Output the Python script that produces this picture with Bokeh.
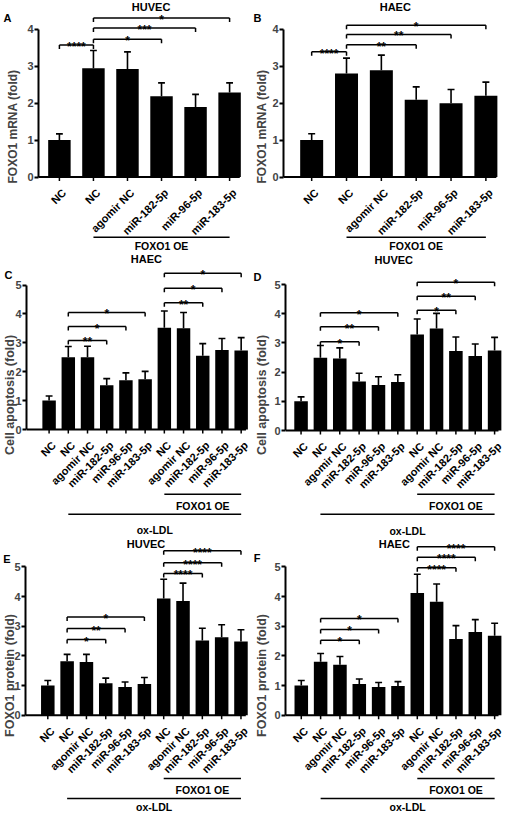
import math
from bokeh.plotting import figure
from bokeh.models import Range1d, FixedTicker, LinearAxis
from bokeh.layouts import column, row
from bokeh.embed import file_html
from bokeh.resources import INLINE
from bokeh.core.properties import value

FONT = "Liberation Sans"

# ---------------- data ----------------
labels_ab = ["NC", "NC", "agomir NC", "miR-182-5p", "miR-96-5p", "miR-183-5p"]
labels_cf = ["NC", "NC", "agomir NC", "miR-182-5p", "miR-96-5p", "miR-183-5p",
             "NC", "agomir NC", "miR-182-5p", "miR-96-5p", "miR-183-5p"]

a_mean = [1.00, 2.95, 2.93, 2.19, 1.90, 2.29]
a_err = [0.17, 0.48, 0.46, 0.36, 0.34, 0.26]
a_sig_from = [1, 2, 2, 2]
a_sig_to = [2, 4, 5, 6]
a_sig_level = [3.58, 3.73, 4.04, 4.31]
a_sig_text = ["****", "*", "***", "*"]

b_mean = [1.00, 2.80, 2.89, 2.09, 2.00, 2.20]
b_err = [0.17, 0.42, 0.41, 0.35, 0.37, 0.37]
b_sig_from = [1, 2, 2, 2]
b_sig_to = [2, 4, 5, 6]
b_sig_level = [3.39, 3.58, 3.86, 4.11]
b_sig_text = ["****", "**", "**", "*"]

c_mean = [1.00, 2.50, 2.50, 1.53, 1.70, 1.74, 3.52, 3.50, 2.55, 2.75, 2.73]
c_err = [0.16, 0.37, 0.38, 0.23, 0.26, 0.27, 0.58, 0.55, 0.42, 0.40, 0.45]
c_sig_from = [2, 2, 2, 7, 7, 7]
c_sig_to = [4, 5, 6, 9, 10, 11]
c_sig_level = [3.08, 3.56, 4.05, 4.39, 4.89, 5.41]
c_sig_text = ["**", "*", "*", "**", "*", "*"]

d_mean = [1.00, 2.49, 2.47, 1.68, 1.56, 1.66, 3.29, 3.49, 2.72, 2.55, 2.74]
d_err = [0.15, 0.42, 0.36, 0.28, 0.28, 0.25, 0.53, 0.52, 0.48, 0.41, 0.45]
d_sig_from = [2, 2, 2, 7, 7, 7]
d_sig_to = [4, 5, 6, 9, 10, 11]
d_sig_level = [3.04, 3.55, 4.03, 4.12, 4.60, 5.08]
d_sig_text = ["*", "**", "*", "*", "**", "*"]

e_mean = [1.00, 1.82, 1.79, 1.08, 0.95, 1.05, 3.93, 3.85, 2.52, 2.63, 2.48]
e_err = [0.17, 0.23, 0.26, 0.17, 0.17, 0.22, 0.65, 0.60, 0.41, 0.42, 0.40]
e_sig_from = [2, 2, 2, 7, 7, 7]
e_sig_to = [4, 5, 6, 9, 10, 11]
e_sig_level = [2.55, 2.92, 3.31, 4.78, 5.14, 5.54]
e_sig_text = ["*", "**", "*", "****", "****", "****"]

f_mean = [1.00, 1.80, 1.70, 1.05, 0.95, 0.98, 4.12, 3.82, 2.57, 2.80, 2.68]
f_err = [0.17, 0.28, 0.28, 0.17, 0.15, 0.15, 0.63, 0.60, 0.45, 0.42, 0.42]
f_sig_from = [2, 2, 2, 7, 7, 7]
f_sig_to = [4, 5, 6, 9, 10, 11]
f_sig_level = [2.53, 2.89, 3.26, 4.97, 5.32, 5.68]
f_sig_text = ["*", "*", "*", "****", "****", "****"]

groups_ab = [(2, 6, "FOXO1 OE")]
groups_cf = [(7, 11, "FOXO1 OE"), (2, 11, "ox-LDL")]


def make_panel(letter, title, ylabel, ymax, labels, mean, err, sf, st, sl, stxt, groups, L):
    n = len(labels)
    W = L["W"]
    axis = L["axis"]
    sp = L["sp"]
    u = L["u"]
    y0 = L["y0"]
    H = L["H"]
    xs = 1 - (L["bar1"] - axis) / sp
    xe = 1 + (W - L["bar1"]) / sp
    ys = -(H - y0) / u
    ye = y0 / u
    p = figure(width=W, height=H, x_range=Range1d(xs, xe), y_range=Range1d(ys, ye),
               x_axis_type=None, toolbar_location=None, output_backend="svg",
               min_border_left=axis, min_border_right=0, min_border_top=0,
               min_border_bottom=0, title=None)
    p.outline_line_color = None
    p.grid.visible = False

    ax = p.yaxis[0]
    ax.bounds = (0, ymax)
    ax.ticker = FixedTicker(ticks=list(range(ymax + 1)))
    ax.axis_line_width = 2
    ax.major_tick_line_width = 2
    ax.major_tick_out = 4
    ax.major_tick_in = 0
    ax.minor_tick_out = 0
    ax.minor_tick_in = 0
    ax.major_label_standoff = 1
    ax.axis_label = ylabel
    ax.axis_label_standoff = L["lab_so"]
    ax.axis_label_text_font = FONT
    ax.axis_label_text_font_style = "bold"
    ax.axis_label_text_font_size = "%gpx" % L["ylab_px"]
    ax.major_label_text_font = FONT
    ax.major_label_text_font_style = "bold"
    ax.major_label_text_font_size = "11px"

    # panel letter: an extra, line-less left axis carrying one tick label
    lx, ly = L["letter"]
    ly_data = round((y0 - ly) / u, 3)
    inner = 4 + 1 + 6.1 + L["lab_so"] + 1.117 * L["ylab_px"]
    outer_right = axis - inner
    so = int(round(outer_right - (lx + 4.0)))
    lax = LinearAxis(ticker=FixedTicker(ticks=[ly_data]),
                     major_label_overrides={ly_data: letter},
                     axis_line_color=None, major_tick_line_color=None,
                     minor_tick_line_color=None, major_tick_out=0, major_tick_in=0,
                     minor_tick_out=0, minor_tick_in=0, major_label_standoff=so,
                     major_label_text_font=FONT, major_label_text_font_style="bold",
                     major_label_text_font_size="11px", major_label_text_color="black")
    p.add_layout(lax, "left")

    xpos = list(range(1, n + 1))
    tops = [m + e for m, e in zip(mean, err)]
    cw = 3.5 / sp
    # bars
    p.vbar(x=xpos, top=mean, bottom=0, width=L["bw"], fill_color="black", line_color=None)
    # error bars (upper only)
    p.segment(x0=xpos, y0=mean, x1=xpos, y1=tops, line_color="black", line_width=1.6)
    p.segment(x0=[x - cw for x in xpos], y0=tops, x1=[x + cw for x in xpos], y1=tops,
              line_color="black", line_width=1.6)
    # x axis
    p.segment(x0=[xs], y0=[0], x1=[n + L["ext"]], y1=[0], line_color="black", line_width=2)
    p.segment(x0=xpos, y0=[0] * n, x1=xpos, y1=[-4.0 / u] * n, line_color="black", line_width=1.5)
    p.text(x=xpos, y=[0] * n, text=labels, angle=math.pi / 4, text_align="right",
           text_baseline="top", x_offset=0.5, y_offset=9.5, text_font=value(FONT),
           text_font_style="bold", text_font_size="11px", text_color="black")
    # significance brackets
    d = 4.0 / u
    hx0, hx1, hy = [], [], []
    vx, vy0, vy1 = [], [], []
    tx, ty = [], []
    for a, b, lev in zip(sf, st, sl):
        hx0.append(a); hx1.append(b); hy.append(lev)
        vx += [a, b]; vy0 += [lev, lev]; vy1 += [lev - d, lev - d]
        tx.append((a + b) / 2); ty.append(lev)
    p.segment(x0=hx0, y0=hy, x1=hx1, y1=hy, line_color="black", line_width=1.5)
    p.segment(x0=vx, y0=vy0, x1=vx, y1=vy1, line_color="black", line_width=1.5)
    p.text(x=tx, y=ty, text=stxt, text_align="center", text_baseline="alphabetic",
           y_offset=2, text_font=value(FONT), text_font_style="bold",
           text_font_size="12px", text_color="black")
    # group annotations
    for (a, b, txt), (lp, tp) in zip(groups, L["gpx"]):
        p.segment(x0=[a], y0=[-lp / u], x1=[b], y1=[-lp / u], line_color="black", line_width=1.5)
        p.text(x=[(a + b) / 2], y=[-tp / u], text=[txt], text_align="center",
               text_baseline="middle", text_font=value(FONT), text_font_style="bold",
               text_font_size="10.5px", text_color="black")
    # title
    tx_, ty_ = L["title"]
    p.text(x=[xs + (tx_ - axis) / sp], y=[(y0 - ty_) / u], text=[title], text_align="center",
           text_baseline="middle", text_font=value(FONT), text_font_style="bold",
           text_font_size="11px", text_color="black")
    return p


LA = dict(W=250, H=252, axis=32, bar1=53.5, sp=35.0, y0=176.5, u=36.9, bw=0.66, ext=0.3,
          title=(147.8, 6.5), letter=(7.5, 17.8), lab_so=4, ylab_px=12,
          gpx=[(60.3, 69.3)])
LB = dict(W=254, H=252, axis=32, bar1=60.3, sp=35.0, y0=176.5, u=36.92, bw=0.66, ext=0.3,
          title=(144.3, 6.5), letter=(12.7, 17.8), lab_so=0, ylab_px=12,
          gpx=[(60.3, 69.3)])
LC = dict(W=250, H=285, axis=22, bar1=45, sp=19.55, y0=177, u=28.9, bw=0.7, ext=0.25,
          title=(144, 6.5), letter=(9.5, 23), lab_so=-5, ylab_px=12.5,
          gpx=[(64.7, 76.3), (84.7, 100.5)])
LD = dict(W=254, H=285, axis=33, bar1=48.7, sp=19.53, y0=178, u=29.2, bw=0.7, ext=0.2,
          title=(142.3, 7.3), letter=(10.7, 24.2), lab_so=2, ylab_px=12.5,
          gpx=[(63.7, 75.3), (83.7, 100)])
LE = dict(W=250, H=276, axis=21, bar1=43.7, sp=19.66, y0=177.7, u=29.67, bw=0.7, ext=0.25,
          title=(143.7, 6.5), letter=(7.8, 22), lab_so=-6, ylab_px=12.5,
          gpx=[(63.3, 74.3), (83.3, 92)])
LF = dict(W=254, H=276, axis=32, bar1=48, sp=19.6, y0=177.7, u=29.67, bw=0.7, ext=0.2,
          title=(142.3, 6.8), letter=(9, 20), lab_so=2, ylab_px=12.5,
          gpx=[(63.3, 74.3), (83.3, 92)])

pA = make_panel("A", "HUVEC", "FOXO1 mRNA (fold)", 4, labels_ab, a_mean, a_err,
                a_sig_from, a_sig_to, a_sig_level, a_sig_text, groups_ab, LA)
pB = make_panel("B", "HAEC", "FOXO1 mRNA (fold)", 4, labels_ab, b_mean, b_err,
                b_sig_from, b_sig_to, b_sig_level, b_sig_text, groups_ab, LB)
pC = make_panel("C", "HAEC", "Cell apoptosis (fold)", 5, labels_cf, c_mean, c_err,
                c_sig_from, c_sig_to, c_sig_level, c_sig_text, groups_cf, LC)
pD = make_panel("D", "HUVEC", "Cell apoptosis (fold)", 5, labels_cf, d_mean, d_err,
                d_sig_from, d_sig_to, d_sig_level, d_sig_text, groups_cf, LD)
pE = make_panel("E", "HUVEC", "FOXO1 protein (fold)", 5, labels_cf, e_mean, e_err,
                e_sig_from, e_sig_to, e_sig_level, e_sig_text, groups_cf, LE)
pF = make_panel("F", "HAEC", "FOXO1 protein (fold)", 5, labels_cf, f_mean, f_err,
                f_sig_from, f_sig_to, f_sig_level, f_sig_text, groups_cf, LF)

layout = column(row(pA, pB), row(pC, pD), row(pE, pF))
open("out.html", "w").write(file_html(layout, INLINE))
